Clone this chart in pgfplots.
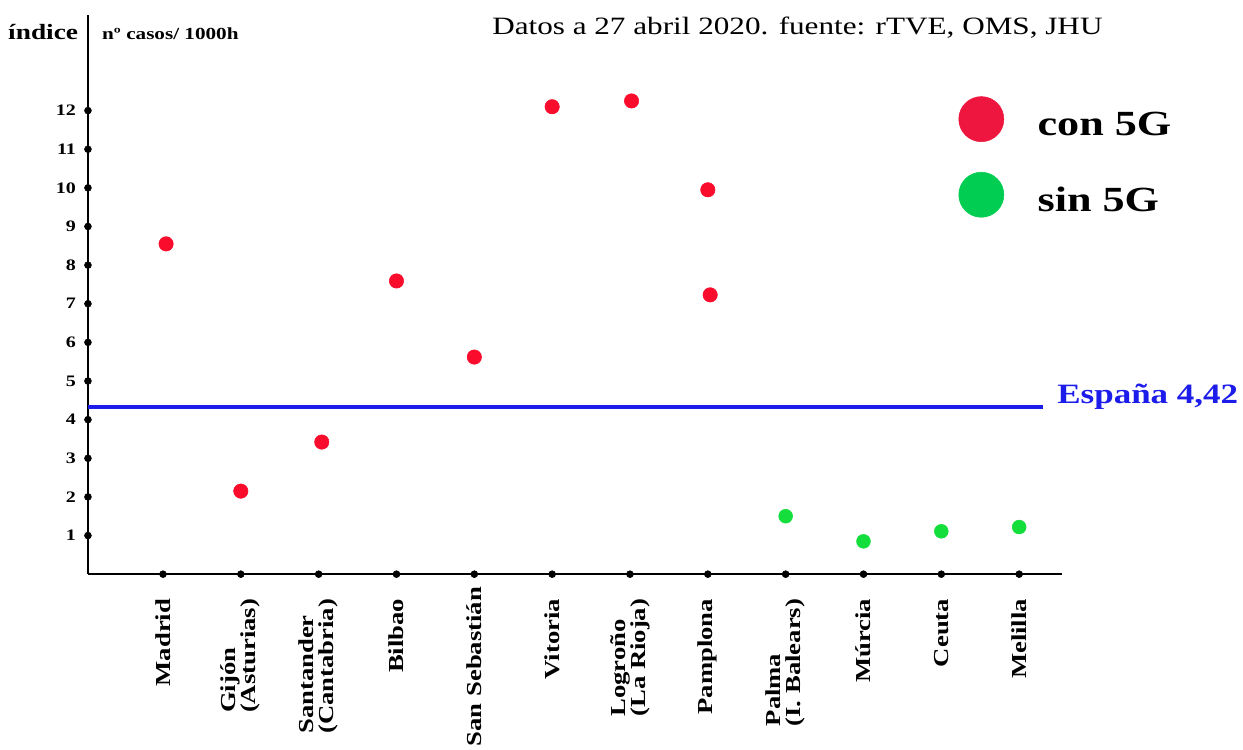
\documentclass[border=0pt]{standalone}
\usepackage{pgfplots}
\pgfplotsset{compat=1.18}
\usepackage{fontspec}
\setmainfont{Liberation Serif}[FakeStretch=1.25]
\definecolor{ptred}{RGB}{250,12,45}
\definecolor{ptgreen}{RGB}{20,222,60}
\definecolor{legred}{RGB}{238,22,62}
\definecolor{leggreen}{RGB}{0,205,82}
\definecolor{espblue}{RGB}{28,28,235}

\begin{document}
\begin{tikzpicture}
\begin{axis}[
    scale only axis,
    width=730.5pt, height=419.25pt,
    xmin=-0.964, xmax=11.55,
    ymin=0, ymax=14.47,
    axis lines=left,
    axis line style={-, line width=1.8pt, black},
    major tick length=0pt,
    clip=false,
    xtick={0,...,11},
    xticklabels={Madrid, {Gijón\\(Asturias)}, {Santander\\(Cantabria)}, Bilbao,
        {San Sebastián\hspace{-9pt}}, Vitoria, {Logroño\\(La Rioja)}, Pamplona,
        {Palma\\(I. Balears)}, Múrcia, Ceuta, Melilla},
    ytick={1,...,12},
    /pgf/number format/assume math mode=true,
    yticklabel style={font=\fontsize{12}{12}\selectfont\bfseries, xshift=-5.5pt},
    xticklabel style={font=\fontsize{16}{15}\selectfont\bfseries, align=left,
        yshift=-15pt, rotate=90, anchor=east},
    legend style={at={(axis cs:10.221,12.369)}, anchor=north west, draw=none,
        fill=none, inner sep=0pt, outer sep=0pt, row sep=22.5pt,
        font=\fontsize{26.5}{30}\selectfont\bfseries},
    legend cell align=left,
]
% con 5G
\addplot[only marks, mark=*, mark size=5.4pt, ptred,
    legend image code/.code={\fill[legred] (0pt,4pt) circle (16.9pt); \path (40pt,0pt);}]
    coordinates {(0.04,8.55) (1,2.15) (2.04,3.42) (3,7.59) (4,5.62)
                 (5,12.1) (6.02,12.25) (7,9.95) (7.03,7.23)};
\addlegendentry{con 5G}
% sin 5G
\addplot[only marks, mark=*, mark size=5.2pt, ptgreen,
    legend image code/.code={\fill[leggreen] (0pt,4pt) circle (16.9pt); \path (40pt,0pt);}]
    coordinates {(8,1.5) (9,0.85) (10,1.11) (11,1.22)};
\addlegendentry{sin 5G}
% media de España
\addplot[espblue, line width=3.2pt, forget plot] coordinates {(-0.964,4.33) (11.31,4.33)};
% puntos de las marcas
\addplot[only marks, mark=*, mark size=2.6pt, black, forget plot]
    coordinates {(0,0) (1,0) (2,0) (3,0) (4,0) (5,0) (6,0) (7,0) (8,0) (9,0) (10,0) (11,0)};
\addplot[only marks, mark=*, mark size=2.6pt, black, forget plot]
    coordinates {(-0.964,1) (-0.964,2) (-0.964,3) (-0.964,4) (-0.964,5) (-0.964,6)
                 (-0.964,7) (-0.964,8) (-0.964,9) (-0.964,10) (-0.964,11) (-0.964,12)};

\node[anchor=base west, inner sep=0pt, text=espblue, font=\fontsize{21}{24}\selectfont\bfseries]
    at (axis cs:11.487,4.43) {España 4,42};
\node[anchor=base west, inner sep=0pt, font=\fontsize{18.7}{22}\selectfont]
    at (axis cs:4.227,13.98) {Datos a 27 abril 2020. fuente: rTVE, OMS, JHU};
\node[anchor=base west, inner sep=0pt, font=\fontsize{16.4}{18}\selectfont\bfseries]
    at (axis cs:-1.992,13.853) {índice};
\node[anchor=base west, inner sep=0pt, font=\fontsize{12.7}{14}\selectfont\bfseries]
    at (axis cs:-0.784,13.83) {nº casos/ 1000h};

\coordinate (bbtl) at (axis cs:-2.094,14.863);
\coordinate (bbbr) at (axis cs:13.876,-4.531);
\end{axis}
\pgfresetboundingbox
\useasboundingbox (bbtl) rectangle (bbbr);
\end{tikzpicture}
\end{document}
